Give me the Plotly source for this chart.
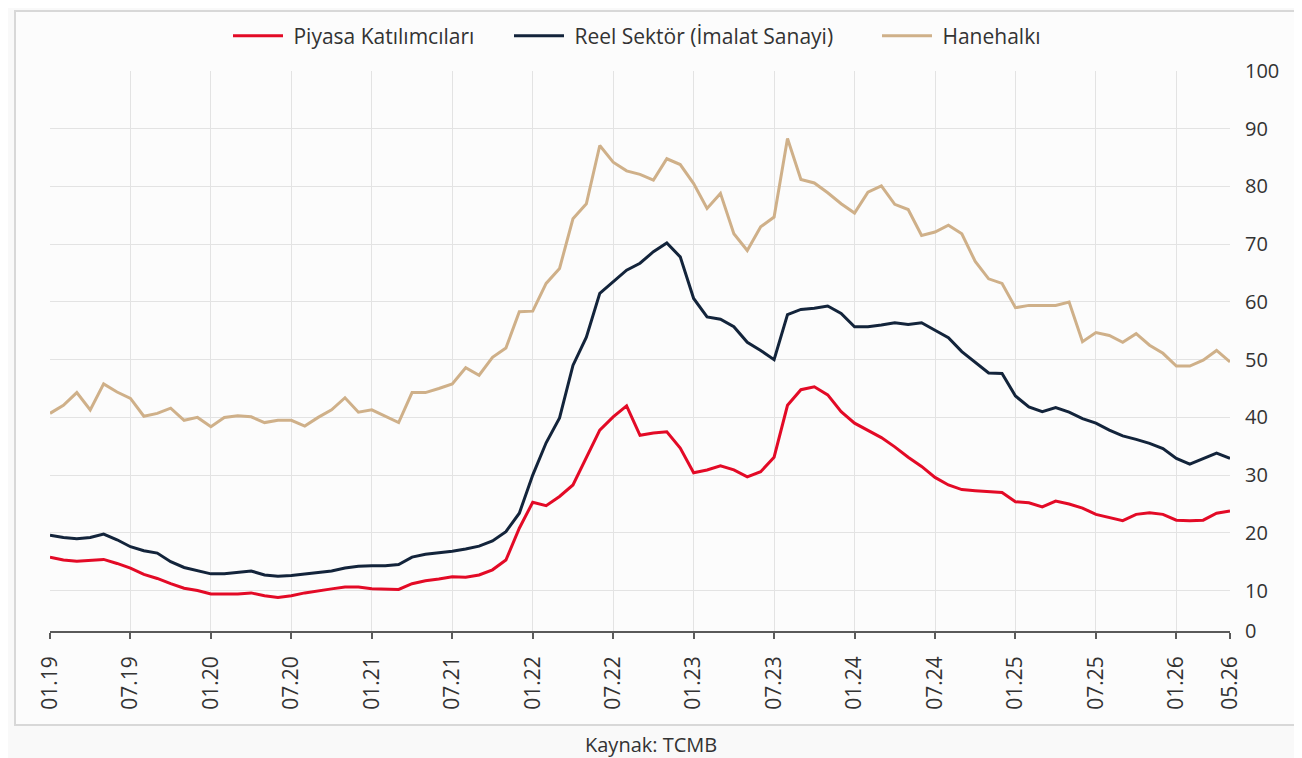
import pandas as pd
import plotly.graph_objects as go

# Months 01.19 .. 05.26
months = [d.strftime("%m.%y") for d in pd.date_range("2019-01-01", "2026-05-01", freq="MS")]

piyasa = [15.8, 15.3, 15.1, 15.2, 15.4, 14.7, 13.9, 12.8, 12.1, 11.2, 10.4, 10.0,
          9.4, 9.4, 9.4, 9.6, 9.1, 8.8, 9.1, 9.6, 10.0, 10.3, 10.6, 10.6,
          10.3, 10.2, 10.2, 11.2, 11.7, 12.0, 12.4, 12.3, 12.7, 13.6, 15.3, 20.8,
          25.3, 24.7, 26.3, 28.3, 33.1, 37.8, 40.1, 42.0, 36.9, 37.3, 37.5, 34.7,
          30.4, 30.9, 31.6, 30.9, 29.7, 30.6, 33.1, 42.1, 44.8, 45.3, 43.9, 41.0,
          39.0, 37.8, 36.5, 34.9, 33.1, 31.5, 29.6, 28.3, 27.5, 27.3, 27.2, 27.0,
          25.4, 25.2, 24.5, 25.5, 25.0, 24.3, 23.2, 22.7, 22.1, 23.2, 23.5, 23.2,
          22.2, 22.1, 22.2, 23.4, 23.8]

reel = [19.6, 19.2, 19.0, 19.2, 19.8, 18.8, 17.6, 16.9, 16.5, 15.0, 14.0, 13.5,
        12.9, 12.9, 13.2, 13.4, 12.7, 12.5, 12.6, 12.9, 13.1, 13.4, 13.9, 14.2,
        14.3, 14.3, 14.5, 15.8, 16.3, 16.5, 16.8, 17.2, 17.7, 18.6, 20.2, 23.4,
        30.0, 35.6, 39.9, 49.0, 53.9, 61.5, 63.5, 65.5, 66.7, 68.7, 70.2, 67.8,
        60.6, 57.4, 57.0, 55.7, 53.0, 51.6, 50.0, 57.8, 58.7, 58.9, 59.3, 58.0,
        55.7, 55.7, 56.0, 56.4, 56.1, 56.4, 55.1, 53.8, 51.4, 49.5, 47.7, 47.6,
        43.7, 41.8, 41.0, 41.7, 40.9, 39.8, 39.0, 37.8, 36.8, 36.2, 35.5, 34.6,
        32.9, 31.9, 32.9, 33.8, 32.9]

hanehalki = [40.7, 42.1, 44.3, 41.3, 45.8, 44.4, 43.3, 40.2, 40.7, 41.6, 39.5, 40.0,
             38.4, 40.0, 40.3, 40.1, 39.1, 39.5, 39.5, 38.5, 40.0, 41.3, 43.4, 40.9,
             41.3, 40.2, 39.1, 44.3, 44.3, 45.0, 45.8, 48.6, 47.3, 50.4, 52.0, 58.3,
             58.4, 63.2, 65.8, 74.4, 77.0, 87.1, 84.2, 82.7, 82.1, 81.1, 84.8, 83.8,
             80.5, 76.2, 78.8, 71.8, 68.9, 73.0, 74.7, 88.3, 81.2, 80.6, 78.9, 77.0,
             75.4, 79.0, 80.1, 76.9, 76.0, 71.5, 72.1, 73.3, 71.8, 67.0, 64.0, 63.2,
             59.0, 59.4, 59.4, 59.4, 60.0, 53.1, 54.7, 54.2, 53.0, 54.5, 52.5, 51.1,
             48.9, 48.9, 49.9, 51.6, 49.6]

series_names = ["Piyasa Katılımcıları", "Reel Sektör (İmalat Sanayi)", "Hanehalkı"]
colors = ["#e30a26", "#13243b", "#cfb089"]
legend_ids = ["legend", "legend2", "legend3"]

x_ticks = months[::6] + [months[-1]]
y_min = 3.0
y_tickvals = [y_min, 10, 20, 30, 40, 50, 60, 70, 80, 90, 100]
y_ticktext = ["0", "10", "20", "30", "40", "50", "60", "70", "80", "90", "100"]

FONT = "Open Sans, Noto Sans, sans-serif"
TXT = "#333333"

# figure geometry (page body has an 8px margin)
W, H = 1294, 750
L, R, T, B = 42, 72, 63, 127
PW, PH = W - L - R, H - T - B


def px(xp):
    return (xp - L) / PW


def py(yp):
    return (H - B - yp) / PH


fig = go.Figure()
for name, vals, col, lg in zip(series_names, [piyasa, reel, hanehalki], colors, legend_ids):
    fig.add_trace(go.Scatter(x=months, y=vals, name="\u00a0" + name, mode="lines",
                             line=dict(color=col, width=3), legend=lg))

legend_left = [220, 501, 869]
leg_common = dict(orientation="h", xanchor="left", yanchor="middle", y=py(28),
                  font=dict(size=21, color=TXT), bgcolor="rgba(0,0,0,0)", itemwidth=50)

fig.update_layout(
    width=W, height=H,
    margin=dict(l=L, r=R, t=T, b=B, autoexpand=False),
    paper_bgcolor="#f9f9f9",
    plot_bgcolor="#fbfbfb",
    font=dict(family=FONT, size=20, color=TXT),
    legend=dict(x=px(legend_left[0]), **leg_common),
    legend2=dict(x=px(legend_left[1]), **leg_common),
    legend3=dict(x=px(legend_left[2]), **leg_common),
    showlegend=True,
)

fig.update_xaxes(
    type="category", categoryorder="array", categoryarray=months,
    range=[0, len(months) - 1],
    tickmode="array", tickvals=x_ticks, ticktext=x_ticks,
    tickangle=-90, tickfont=dict(size=21, color=TXT),
    showgrid=True, gridcolor="#e3e3e3", gridwidth=1,
    showline=True, linecolor="#5a5a5a", linewidth=1.5,
    ticks="outside", ticklen=6, tickcolor="#5a5a5a", tickwidth=1.5,
    ticklabelstandoff=9,
    zeroline=False,
)

fig.update_yaxes(
    side="right", range=[y_min, 100],
    tickmode="array", tickvals=y_tickvals, ticktext=y_ticktext,
    tickfont=dict(size=20, color=TXT),
    showgrid=True, gridcolor="#e3e3e3", gridwidth=1,
    zeroline=False, showline=False, ticks="", ticklabelstandoff=14,
)

# outer frame box
fig.add_shape(type="rect", xref="paper", yref="paper",
              x0=px(7), x1=px(1291), y0=py(717), y1=py(3),
              line=dict(color="#d8d8d8", width=2), fillcolor="#fcfcfc", layer="below")

fig.add_annotation(text="Kaynak: TCMB", xref="paper", yref="paper",
                   x=px(643), y=py(736), xanchor="center", yanchor="middle",
                   showarrow=False, font=dict(size=20, color=TXT))

fig.write_html("out.html")
